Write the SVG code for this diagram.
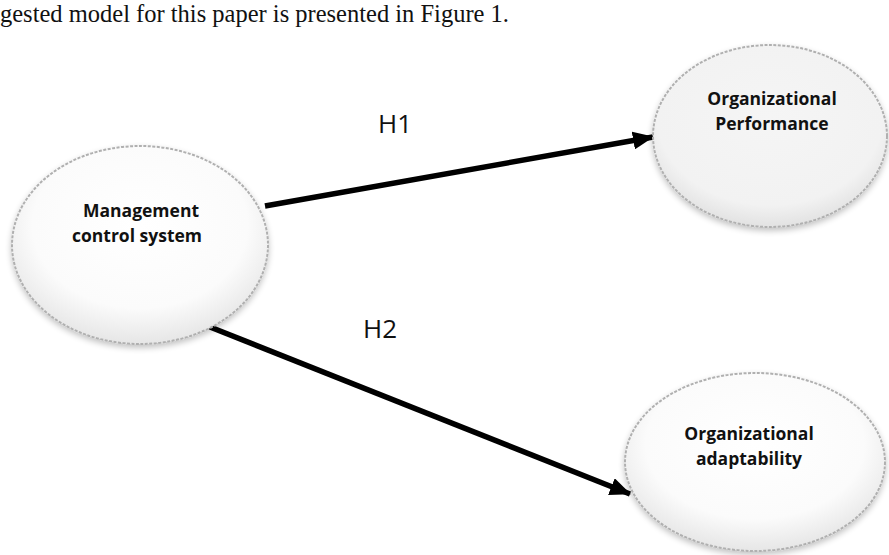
<svg xmlns="http://www.w3.org/2000/svg" width="889" height="555" viewBox="0 0 889 555">
<style>
.node-shape{stroke:#b0b0b0;stroke-width:2;stroke-dasharray:3 1.5;filter:url(#soft)}
.label{font-family:"Open Sans","Liberation Sans",sans-serif;font-weight:bold;font-size:17.5px;fill:#111;text-anchor:middle}
.hyp{font-family:"Open Sans","Liberation Sans",sans-serif;font-size:26px;fill:#111}
.edge{stroke:#000;stroke-width:5.5;fill:none;marker-end:url(#arrow)}
.caption{font-family:"Liberation Serif","Times New Roman",serif;font-size:24.5px;fill:#111}
</style>
<defs>
<radialGradient id="fillW" cx="0.5" cy="0.4" r="0.6">
<stop offset="0" stop-color="#ffffff"/>
<stop offset="0.7" stop-color="#fbfbfb"/>
<stop offset="1" stop-color="#e6e6e6"/>
</radialGradient>
<radialGradient id="fillG" cx="0.5" cy="0.4" r="0.6">
<stop offset="0" stop-color="#f5f5f5"/>
<stop offset="0.8" stop-color="#f2f2f2"/>
<stop offset="1" stop-color="#e2e2e2"/>
</radialGradient>
<filter id="soft" x="-10%" y="-10%" width="120%" height="130%">
<feGaussianBlur in="SourceAlpha" stdDeviation="3"/>
<feOffset dy="3" result="b"/>
<feComponentTransfer><feFuncA type="linear" slope="0.25"/></feComponentTransfer>
<feMerge><feMergeNode/><feMergeNode in="SourceGraphic"/></feMerge>
</filter>
<marker id="arrow" markerUnits="userSpaceOnUse" markerWidth="22" markerHeight="18" refX="20" refY="9" orient="auto">
<path d="M0,0 L21,9 L0,18 Z" fill="#000"/>
</marker>
</defs>
<rect width="889" height="555" fill="#fff"/>
<text class="caption" x="0" y="22">gested model for this paper is presented in Figure 1.</text>

<g id="connectors">
<line class="edge" x1="265" y1="206" x2="653" y2="137"/>
<text class="hyp" x="378" y="133">H1</text>
<line class="edge" x1="210" y1="327" x2="630" y2="494"/>
<text class="hyp" x="363" y="338">H2</text>
</g>

<g id="node-mcs">
<ellipse class="node-shape" cx="140" cy="245" rx="128" ry="99" fill="url(#fillW)"/>
<text class="label" x="141" y="217">Management</text>
<text class="label" x="137" y="242">control system</text>
</g>

<g id="node-perf">
<ellipse class="node-shape" cx="770" cy="136" rx="117" ry="91" fill="url(#fillG)"/>
<text class="label" x="772" y="105">Organizational</text>
<text class="label" x="772" y="130">Performance</text>
</g>

<g id="node-adapt">
<ellipse class="node-shape" cx="755" cy="462" rx="130" ry="89" fill="url(#fillW)"/>
<text class="label" x="749" y="440">Organizational</text>
<text class="label" x="749" y="465">adaptability</text>
</g>
</svg>
